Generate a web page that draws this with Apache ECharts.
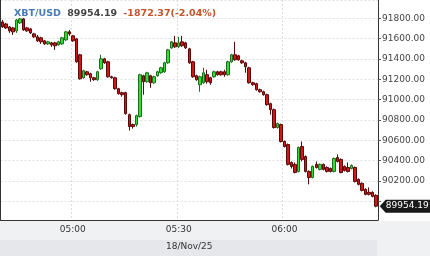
<!DOCTYPE html>
<html>
<head>
<meta charset="utf-8">
<style>
html,body{margin:0;padding:0;background:#fff;}
#c{width:430px;height:256px;}
</style>
<script src="https://cdn.jsdelivr.net/npm/echarts@6/dist/echarts.min.js"></script>
</head>
<body>
<div id="c"></div>
<script>
const categories = ["04:40","04:41","04:42","04:43","04:44","04:45","04:46","04:47","04:48","04:49",
"04:50","04:51","04:52","04:53","04:54","04:55","04:56","04:57","04:58","04:59",
"05:00","05:01","05:02","05:03","05:04","05:05","05:06","05:07","05:08","05:09",
"05:10","05:11","05:12","05:13","05:14","05:15","05:16","05:17","05:18","05:19",
"05:20","05:21","05:22","05:23","05:24","05:25","05:26","05:27","05:28","05:29",
"05:30","05:31","05:32","05:33","05:34","05:35","05:36","05:37","05:38","05:39",
"05:40","05:41","05:42","05:43","05:44","05:45","05:46","05:47","05:48","05:49",
"05:50","05:51","05:52","05:53","05:54","05:55","05:56","05:57","05:58","05:59",
"06:00","06:01","06:02","06:03","06:04","06:05","06:06","06:07","06:08","06:09",
"06:10","06:11","06:12","06:13","06:14","06:15","06:16","06:17","06:18","06:19",
"06:20","06:21","06:22","06:23","06:24","06:25","06:26"];

const opens = [91764,91744,91715,91705,91676,91754,91793,91705,91695,91646,
91617,91607,91578,91548,91558,91558,91538,91548,91587,91666,
91627,91597,91441,91215,91274,91255,91215,91196,91303,91401,
91372,91225,91215,91108,91069,91069,90853,90755,90755,90834,
91235,91176,91235,91166,91235,91264,91274,91362,91509,91558,
91519,91568,91558,91499,91372,91235,91147,91166,91245,91215,
91225,91274,91274,91274,91245,91372,91441,91431,91382,91362,
91313,91166,91157,91098,91078,91049,90961,90902,90726,90755,
90589,90559,90383,90364,90295,90540,90442,90295,90236,90364,
90315,90364,90334,90324,90295,90432,90413,90344,90334,90324,
90334,90217,90178,90119,90090,90090,90060];

const closes = [91715,91705,91676,91666,91783,91793,91685,91676,91656,91617,
91578,91568,91548,91568,91538,91529,91568,91607,91666,91646,
91578,91372,91206,91284,91245,91215,91196,91274,91401,91362,
91225,91215,91108,91059,91049,90863,90736,90736,90843,91245,
91176,91264,91166,91225,91274,91313,91362,91489,91568,91519,
91558,91529,91509,91362,91225,91196,91225,91264,91176,91166,
91274,91245,91245,91245,91372,91441,91392,91392,91362,91323,
91166,91147,91098,91078,91049,90951,90902,90726,90765,90589,
90540,90364,90344,90285,90530,90413,90295,90236,90344,90334,
90364,90315,90295,90295,90422,90393,90285,90305,90295,90354,
90197,90168,90109,90070,90070,90050,89954.19];

const highs = [91783,91754,91724,91715,91793,91803,91803,91715,91705,91656,
91636,91617,91587,91578,91568,91568,91578,91617,91676,91685,
91636,91607,91450,91294,91284,91264,91225,91284,91441,91411,
91382,91235,91225,91117,91078,91078,90863,90765,90853,91255,
91245,91274,91245,91235,91284,91323,91372,91499,91578,91627,
91617,91627,91568,91509,91382,91245,91235,91313,91294,91225,
91284,91284,91284,91294,91382,91450,91568,91441,91392,91372,
91323,91176,91166,91108,91088,91059,90971,90912,90775,90765,
90599,90569,90393,90383,90540,90589,90452,90305,90354,90393,
90373,90373,90344,90334,90432,90462,90422,90354,90383,90364,
90344,90227,90187,90129,90138,90099,90070];

const lows = [91705,91695,91656,91636,91656,91744,91676,91666,91646,91607,
91568,91548,91538,91538,91519,91489,91529,91538,91578,91627,
91568,91362,91196,91206,91235,91176,91186,91186,91294,91352,
91215,91206,91098,91049,91029,90853,90697,90716,90736,90824,
91049,91166,91117,91157,91225,91255,91264,91352,91499,91509,
91509,91519,91499,91352,91215,91186,91078,91157,91157,91147,
91215,91235,91235,91225,91235,91362,91382,91382,91352,91264,
91157,91137,91088,91069,91039,90941,90853,90716,90716,90579,
90530,90354,90324,90276,90285,90393,90285,90168,90227,90324,
90305,90305,90285,90285,90285,90383,90276,90295,90285,90315,
90187,90158,90099,90060,90060,90041,89943];

const xTickLabels = ["05:00","05:30","06:00"];
const symbol = "XBT/USD";
const lastPrice = "89954.19";
const change = "-1872.37(-2.04%)";
const dateLabel = "18/Nov/25";
const yMin = 89818, yMax = 91979;

const candleData = categories.map((c, i) => [opens[i], closes[i], lows[i], highs[i]]);
const isTick = (idx, val) => xTickLabels.indexOf(categories[idx] !== undefined ? categories[idx] : val) >= 0;

const chart = echarts.init(document.getElementById('c'), null, {renderer: 'canvas'});
const FONT = 'DejaVu Sans';
chart.setOption({
  animation: false,
  backgroundColor: '#ffffff',
  textStyle: {fontFamily: FONT},
  title: {
    left: 9, top: 0,
    text: '{a|' + symbol + '} {b|' + lastPrice + '} {c|' + change + '}',
    textStyle: {
      rich: {
        a: {color: '#4a7bb7', fontWeight: 'bold', fontSize: 9.5, fontFamily: FONT},
        b: {color: '#454545', fontWeight: 'bold', fontSize: 9.5, fontFamily: FONT},
        c: {color: '#c8532c', fontWeight: 'bold', fontSize: 9.5, fontFamily: FONT}
      }
    }
  },
  graphic: [
    {type: 'rect', z: -10, silent: true, shape: {x: 0, y: 221, width: 430, height: 35}, style: {fill: '#eff1f3'}},
    {type: 'rect', z: -9, silent: true, shape: {x: 0, y: 240, width: 377, height: 16}, style: {fill: '#e5e7ea'}}
  ],
  grid: {left: 0.5, right: 52, top: 0, bottom: 35},
  xAxis: {
    type: 'category',
    data: categories,
    boundaryGap: true,
    axisLine: {show: true, lineStyle: {color: '#333', width: 1}},
    axisTick: {show: false},
    axisLabel: {interval: isTick, color: '#333', fontSize: 9, fontFamily: FONT, margin: 5},
    splitLine: {show: true, interval: isTick, lineStyle: {color: '#dcdcdc', type: [2, 2]}},
    name: dateLabel,
    nameLocation: 'middle',
    nameGap: 22,
    nameTextStyle: {color: '#333', fontSize: 9, fontFamily: FONT}
  },
  yAxis: [
    {
      type: 'value', position: 'right', min: yMin, max: yMax, splitNumber: 10, scale: true,
      axisLine: {show: true, lineStyle: {color: '#333', width: 1}},
      axisTick: {show: true, length: 3, lineStyle: {color: '#555'}},
      axisLabel: {
        color: '#444', fontSize: 9, fontFamily: FONT, margin: 4,
        showMinLabel: false, showMaxLabel: false,
        formatter: v => (v % 200 === 0 && v !== 90000) ? v.toFixed(2) : ''
      },
      splitLine: {show: true, lineStyle: {color: '#e2e2e2', type: [2, 2]}}
    },
    {
      type: 'value', position: 'left', min: yMin, max: yMax,
      axisLine: {show: true, lineStyle: {color: '#333', width: 1}},
      axisTick: {show: false}, axisLabel: {show: false}, splitLine: {show: false}
    }
  ],
  series: [{
    type: 'candlestick',
    yAxisIndex: 0,
    data: candleData,
    barWidth: 3,
    clip: false,
    itemStyle: {
      color: '#33dd33', color0: '#d01818',
      borderColor: '#1c6e1c', borderColor0: '#5a0808', borderWidth: 1
    },
    markPoint: {
      symbol: 'path://M0,6 L6,0 L52,0 L52,12 L6,12 Z',
      symbolSize: [51, 13],
      symbolOffset: [29, 0],
      itemStyle: {color: '#1a1a1a'},
      label: {show: true, position: 'inside', offset: [2, 0], color: '#fff', fontSize: 9, fontFamily: FONT,
        formatter: () => lastPrice},
      data: [{coord: [categories.length - 1, closes[closes.length - 1]]}]
    }
  }]
});
</script>
</body>
</html>
